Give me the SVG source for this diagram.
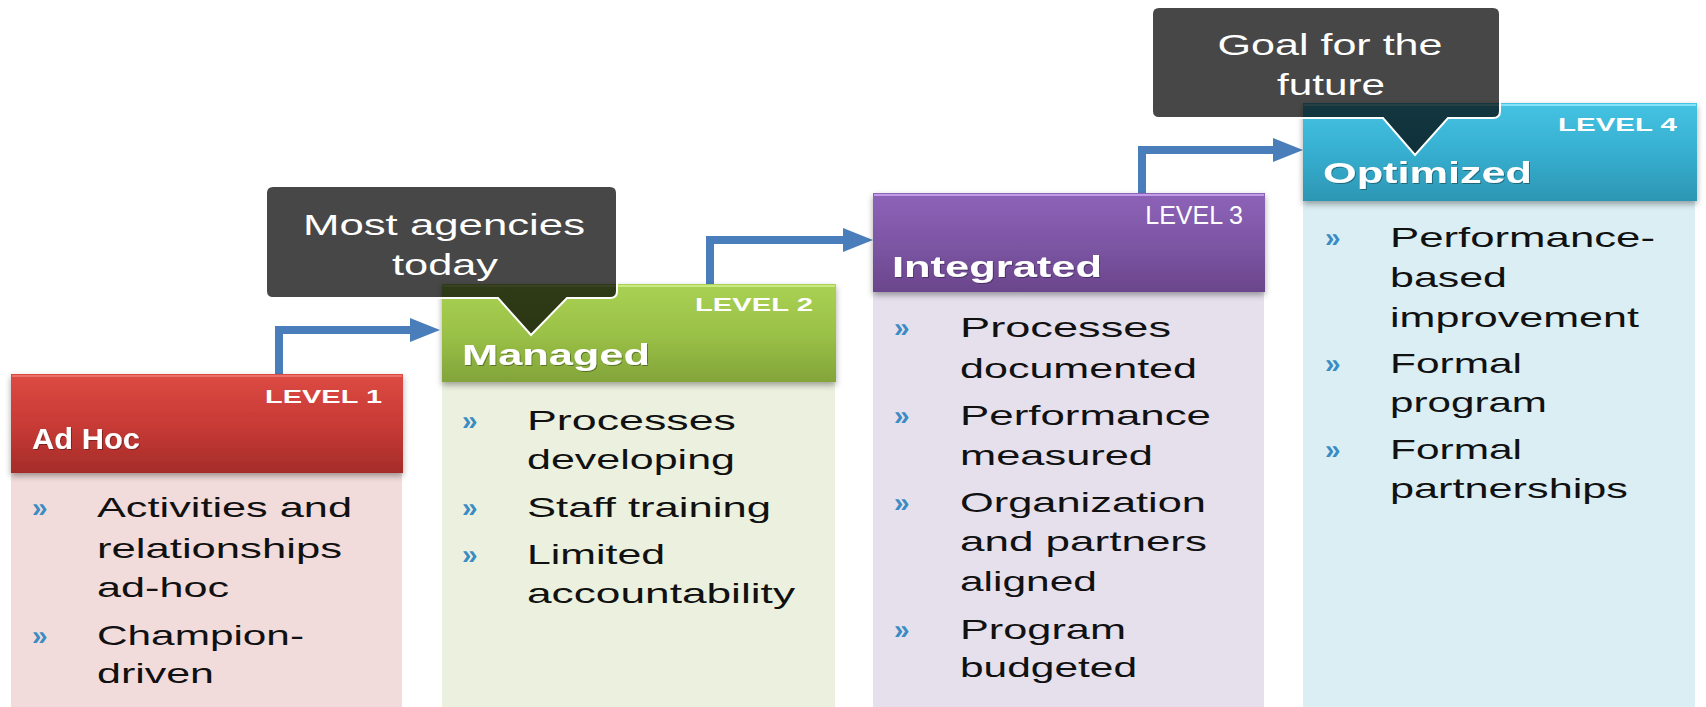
<svg xmlns="http://www.w3.org/2000/svg" width="1706" height="707" viewBox="0 0 1706 707">
<style>
.b{font-family:"Liberation Sans",Arial,sans-serif;font-size:28px;fill:#111}
.bl{font-family:"Liberation Sans",Arial,sans-serif;font-size:28px;font-weight:bold;fill:#3a8cc4}
.lv{font-family:"Liberation Sans",Arial,sans-serif;font-size:19px;font-weight:bold;fill:#fff}
.tt{font-family:"Liberation Sans",Arial,sans-serif;font-size:30px;font-weight:bold;fill:#fff}
.cl{font-family:"Liberation Sans",Arial,sans-serif;font-size:30px;fill:#fff;text-anchor:middle}
.conn{fill:none;stroke:#4a7ebb;stroke-width:8}
.cbox{fill:#000;fill-opacity:0.72;stroke:#fff;stroke-width:2}
</style>
<defs>
<linearGradient id="gRed" x1="0" y1="0" x2="0" y2="1"><stop offset="0" stop-color="#dc4a43"/><stop offset="0.5" stop-color="#c93b36"/><stop offset="1" stop-color="#a52c29"/></linearGradient>
<linearGradient id="gGreen" x1="0" y1="0" x2="0" y2="1"><stop offset="0" stop-color="#a9d153"/><stop offset="0.5" stop-color="#9bc247"/><stop offset="1" stop-color="#82a43a"/></linearGradient>
<linearGradient id="gPurple" x1="0" y1="0" x2="0" y2="1"><stop offset="0" stop-color="#8d63b8"/><stop offset="0.5" stop-color="#7d56a5"/><stop offset="1" stop-color="#6a468c"/></linearGradient>
<linearGradient id="gCyan" x1="0" y1="0" x2="0" y2="1"><stop offset="0" stop-color="#45c3e3"/><stop offset="0.5" stop-color="#37afd0"/><stop offset="1" stop-color="#2c96b3"/></linearGradient>
<filter id="sh" x="-5%" y="-10%" width="110%" height="130%"><feDropShadow dx="0" dy="3" stdDeviation="3" flood-color="#000" flood-opacity="0.35"/></filter>
<filter id="ts" x="-5%" y="-20%" width="110%" height="140%"><feDropShadow dx="1" dy="1" stdDeviation="0.6" flood-color="#000" flood-opacity="0.35"/></filter>
<marker id="ah" markerUnits="userSpaceOnUse" markerWidth="30" markerHeight="24" refX="2" refY="12" orient="auto"><path d="M0,0 L30,12 L0,24 z" fill="#4a7ebb"/></marker>
</defs>
<rect width="1706" height="707" fill="#fff"/>

<g id="connectors">
<path class="conn" d="M279,374 V330 H412" marker-end="url(#ah)"/>
<path class="conn" d="M710,284 V240 H845" marker-end="url(#ah)"/>
<path class="conn" d="M1142,194 V150 H1275" marker-end="url(#ah)"/>
</g>

<g id="level1">
<rect x="11" y="473" width="391" height="234" fill="#f2dcdb"/>
<rect x="11" y="374" width="392" height="99" fill="url(#gRed)" filter="url(#sh)"/>
<rect x="12" y="375" width="390" height="2" fill="#ee7a73" opacity="0.8"/>
<text class="lv" x="265" y="403" textLength="117" lengthAdjust="spacingAndGlyphs">LEVEL  1</text>
<text class="tt" x="32" y="449" font-size="32" textLength="108" lengthAdjust="spacingAndGlyphs" filter="url(#ts)">Ad Hoc</text>
<text class="bl" x="32" y="517">»</text>
<text class="b" x="97" y="517" textLength="255" lengthAdjust="spacingAndGlyphs">Activities and</text>
<text class="b" x="97" y="558" textLength="245" lengthAdjust="spacingAndGlyphs">relationships</text>
<text class="b" x="97" y="597" textLength="132" lengthAdjust="spacingAndGlyphs">ad-hoc</text>
<text class="bl" x="32" y="645">»</text>
<text class="b" x="97" y="645" textLength="207" lengthAdjust="spacingAndGlyphs">Champion-</text>
<text class="b" x="97" y="683" textLength="117" lengthAdjust="spacingAndGlyphs">driven</text>
</g>

<g id="level2">
<rect x="442" y="382" width="393" height="325" fill="#ebf1de"/>
<rect x="442" y="284" width="394" height="98" fill="url(#gGreen)" filter="url(#sh)"/>
<rect x="443" y="285" width="392" height="2" fill="#cdeb85" opacity="0.9"/>
<text class="lv" x="695" y="311" textLength="118" lengthAdjust="spacingAndGlyphs">LEVEL  2</text>
<text class="tt" x="462" y="365" textLength="188" lengthAdjust="spacingAndGlyphs" filter="url(#ts)">Managed</text>
<text class="bl" x="462" y="430">»</text>
<text class="b" x="527" y="430" textLength="209" lengthAdjust="spacingAndGlyphs">Processes</text>
<text class="b" x="527" y="469" textLength="208" lengthAdjust="spacingAndGlyphs">developing</text>
<text class="bl" x="462" y="517">»</text>
<text class="b" x="527" y="517" textLength="244" lengthAdjust="spacingAndGlyphs">Staff training</text>
<text class="bl" x="462" y="564">»</text>
<text class="b" x="527" y="564" textLength="138" lengthAdjust="spacingAndGlyphs">Limited</text>
<text class="b" x="527" y="603" textLength="268" lengthAdjust="spacingAndGlyphs">accountability</text>
</g>

<g id="level3">
<rect x="873" y="292" width="391" height="415" fill="#e5e0ec"/>
<rect x="873" y="193" width="392" height="99" fill="url(#gPurple)" filter="url(#sh)"/>
<rect x="874" y="194" width="390" height="2" fill="#c7a2ec" opacity="0.9"/>
<text x="1243" y="224" font-family="Liberation Sans, Arial, sans-serif" font-size="25" fill="#fff" text-anchor="end">LEVEL 3</text>
<text class="tt" x="892" y="277" textLength="210" lengthAdjust="spacingAndGlyphs" filter="url(#ts)">Integrated</text>
<text class="bl" x="894" y="337">»</text>
<text class="b" x="960" y="337" textLength="211" lengthAdjust="spacingAndGlyphs">Processes</text>
<text class="b" x="960" y="378" textLength="237" lengthAdjust="spacingAndGlyphs">documented</text>
<text class="bl" x="894" y="425">»</text>
<text class="b" x="960" y="425" textLength="251" lengthAdjust="spacingAndGlyphs">Performance</text>
<text class="b" x="960" y="465" textLength="193" lengthAdjust="spacingAndGlyphs">measured</text>
<text class="bl" x="894" y="512">»</text>
<text class="b" x="960" y="512" textLength="246" lengthAdjust="spacingAndGlyphs">Organization</text>
<text class="b" x="960" y="551" textLength="247" lengthAdjust="spacingAndGlyphs">and partners</text>
<text class="b" x="960" y="591" textLength="137" lengthAdjust="spacingAndGlyphs">aligned</text>
<text class="bl" x="894" y="639">»</text>
<text class="b" x="960" y="639" textLength="166" lengthAdjust="spacingAndGlyphs">Program</text>
<text class="b" x="960" y="677" textLength="177" lengthAdjust="spacingAndGlyphs">budgeted</text>
</g>

<g id="level4">
<rect x="1303" y="201" width="392" height="506" fill="#dbeef4"/>
<rect x="1303" y="103" width="394" height="98" fill="url(#gCyan)" filter="url(#sh)"/>
<rect x="1304" y="104" width="392" height="2" fill="#8ee6f8" opacity="0.9"/>
<text class="lv" x="1558" y="131" textLength="119" lengthAdjust="spacingAndGlyphs">LEVEL  4</text>
<text class="tt" x="1323" y="183" textLength="209" lengthAdjust="spacingAndGlyphs" filter="url(#ts)">Optimized</text>
<text class="bl" x="1325" y="247">»</text>
<text class="b" x="1390" y="247" textLength="265" lengthAdjust="spacingAndGlyphs">Performance-</text>
<text class="b" x="1390" y="287" textLength="117" lengthAdjust="spacingAndGlyphs">based</text>
<text class="b" x="1390" y="327" textLength="249" lengthAdjust="spacingAndGlyphs">improvement</text>
<text class="bl" x="1325" y="373">»</text>
<text class="b" x="1390" y="373" textLength="132" lengthAdjust="spacingAndGlyphs">Formal</text>
<text class="b" x="1390" y="412" textLength="157" lengthAdjust="spacingAndGlyphs">program</text>
<text class="bl" x="1325" y="459">»</text>
<text class="b" x="1390" y="459" textLength="132" lengthAdjust="spacingAndGlyphs">Formal</text>
<text class="b" x="1390" y="498" textLength="238" lengthAdjust="spacingAndGlyphs">partnerships</text>
</g>

<g id="callout-today">
<path class="cbox" d="M273,186 H610 Q617,186 617,193 V291 Q617,298 610,298 H567 L531,335 L498,298 H273 Q266,298 266,291 V193 Q266,186 273,186 Z"/>
<text class="cl" x="444" y="235" textLength="282" lengthAdjust="spacingAndGlyphs">Most agencies</text>
<text class="cl" x="445" y="275" textLength="106" lengthAdjust="spacingAndGlyphs">today</text>
</g>

<g id="callout-future">
<path class="cbox" d="M1159,7 H1493 Q1500,7 1500,14 V111 Q1500,118 1493,118 H1448 L1415,155 L1383,118 H1159 Q1152,118 1152,111 V14 Q1152,7 1159,7 Z"/>
<text class="cl" x="1330" y="55" textLength="225" lengthAdjust="spacingAndGlyphs">Goal for the</text>
<text class="cl" x="1331" y="95" textLength="108" lengthAdjust="spacingAndGlyphs">future</text>
</g>
</svg>
